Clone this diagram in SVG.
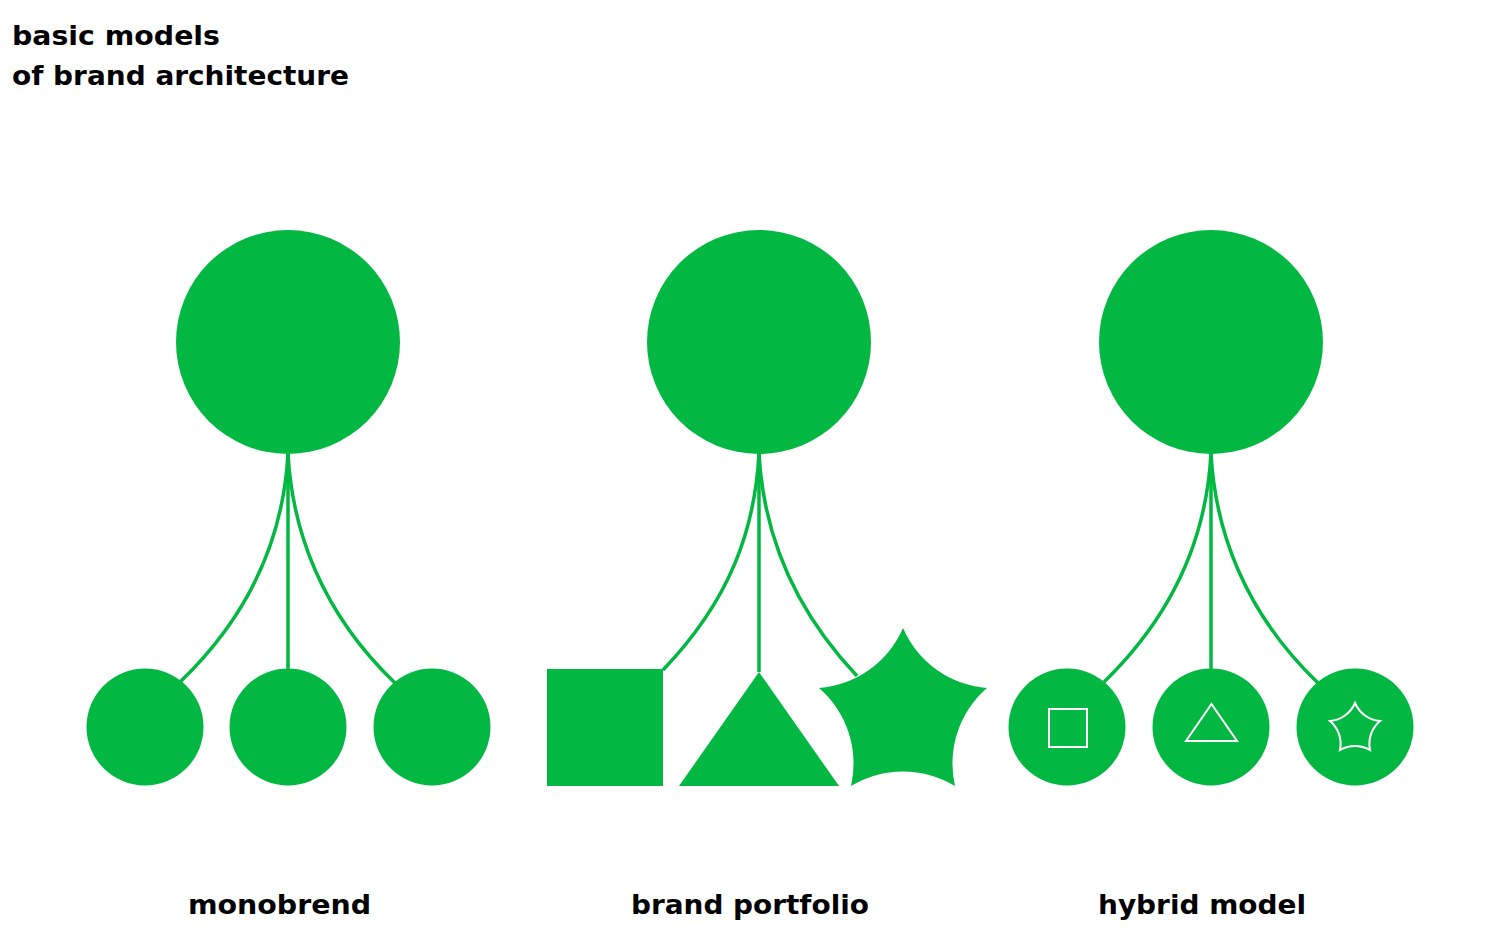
<svg xmlns="http://www.w3.org/2000/svg" width="1500" height="949" viewBox="0 0 1500 949">
<style>
.g{fill:#02b842}
.c{fill:none;stroke:#02b842;stroke-width:3.5}
.w{fill:none;stroke:#fff;stroke-width:2}
.t{font-family:"DejaVu Sans","Liberation Sans",sans-serif;font-weight:700;font-size:26px;fill:#000}
</style>
<rect width="1500" height="949" fill="#fff"/>
<g id="title">
<text class="t" x="12" y="45" textLength="208" lengthAdjust="spacingAndGlyphs">basic models</text>
<text class="t" x="12" y="85" textLength="337" lengthAdjust="spacingAndGlyphs">of brand architecture</text>
</g>
<g id="connectors">
<path class="c" d="M288,453 C284,530 255,610 180,682"/>
<path class="c" d="M288,453 V669"/>
<path class="c" d="M288,453 C292,530 321,612 395,683"/>
<path class="c" d="M759,453 C755,530 730,600 663,670"/>
<path class="c" d="M759,453 V672"/>
<path class="c" d="M759,453 C763,530 790,605 857,676"/>
<path class="c" d="M1211,453 C1207,530 1178,610 1104,682"/>
<path class="c" d="M1211,453 V669"/>
<path class="c" d="M1211,453 C1215,530 1244,612 1318,683"/>
</g>
<g id="monobrend-parent"><circle class="g" cx="288" cy="342" r="112"/></g>
<g id="mono-child-1"><circle class="g" cx="145" cy="727" r="58.5"/></g>
<g id="mono-child-2"><circle class="g" cx="288" cy="727" r="58.5"/></g>
<g id="mono-child-3"><circle class="g" cx="432" cy="727" r="58.5"/></g>
<g id="portfolio-parent"><circle class="g" cx="759" cy="342" r="112"/></g>
<g id="portfolio-square"><rect class="g" x="547" y="669" width="116" height="117"/></g>
<g id="portfolio-triangle"><polygon class="g" points="759,672 839,786 679,786"/></g>
<g id="portfolio-star"><path class="g" d="M903,628 A100,100 0 0 0 987,688 A100,100 0 0 0 955,786 A100,100 0 0 0 851,786 A100,100 0 0 0 819,688 A100,100 0 0 0 903,628 Z"/></g>
<g id="hybrid-parent"><circle class="g" cx="1211" cy="342" r="112"/></g>
<g id="hybrid-child-1"><circle class="g" cx="1067" cy="727" r="58.5"/><rect class="w" x="1049" y="709" width="38" height="38"/></g>
<g id="hybrid-child-2"><circle class="g" cx="1211" cy="727" r="58.5"/><polygon class="w" points="1211.5,704 1237,741 1186,741"/></g>
<g id="hybrid-child-3"><circle class="g" cx="1355" cy="727" r="58.5"/><path class="w" d="M1355,703 A30,30 0 0 0 1380,721 A30,30 0 0 0 1370,750 A30,30 0 0 0 1340,750 A30,30 0 0 0 1330,721 A30,30 0 0 0 1355,703 Z"/></g>
<g id="labels">
<text class="t" x="188" y="914" textLength="183" lengthAdjust="spacingAndGlyphs">monobrend</text>
<text class="t" x="631" y="914" textLength="238" lengthAdjust="spacingAndGlyphs">brand portfolio</text>
<text class="t" x="1098" y="914" textLength="208" lengthAdjust="spacingAndGlyphs">hybrid model</text>
</g>
</svg>
